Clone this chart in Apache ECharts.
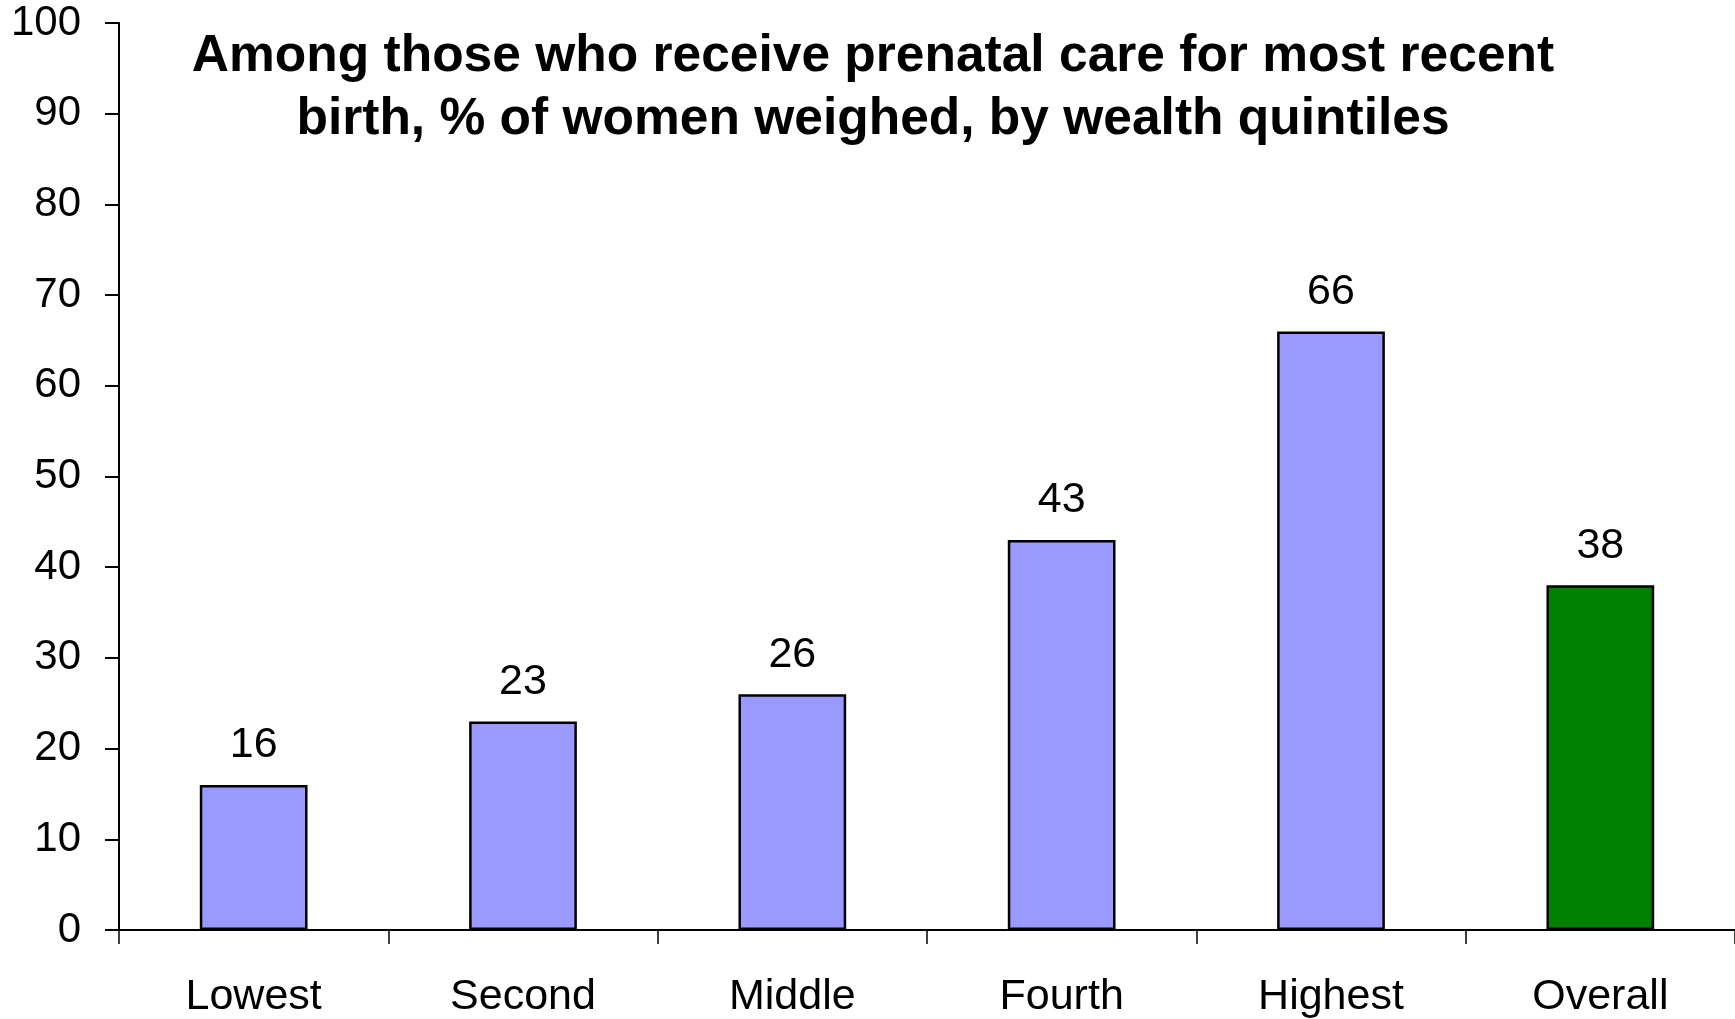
<!DOCTYPE html>
<html>
<head>
<meta charset="utf-8">
<script src="https://cdn.jsdelivr.net/npm/echarts@6/dist/echarts.min.js"></script>
<style>
html,body{margin:0;padding:0;background:#fff;}
#chart{width:1735px;height:1019px;}
</style>
</head>
<body>
<div id="chart"></div>
<script>
const titleLines = ["Among those who receive prenatal care for most recent", "birth, % of women weighed, by wealth quintiles"];
const categories = ["Lowest", "Second", "Middle", "Fourth", "Highest", "Overall"];
const values = [16, 23, 26, 43, 66, 38];
const barColors = ["#9999FF", "#9999FF", "#9999FF", "#9999FF", "#9999FF", "#008000"];
const yTicks = [0, 10, 20, 30, 40, 50, 60, 70, 80, 90, 100];

const FONT = "'Liberation Sans', Arial, sans-serif";
const chart = echarts.init(document.getElementById('chart'), null, {renderer: 'canvas'});
chart.setOption({
  animation: false,
  backgroundColor: '#ffffff',
  title: {
    text: titleLines.join('\n'),
    left: 868,
    top: 20,
    textAlign: 'center',
    textStyle: {fontFamily: FONT, fontSize: 51.5, fontWeight: 'bold', color: '#000', lineHeight: 63}
  },
  grid: {left: 119, right: 0, top: 23, bottom: 86, containLabel: false},
  xAxis: {
    type: 'category',
    data: categories,
    axisLine: {show: true, lineStyle: {color: '#000', width: 2}},
    axisTick: {show: true, inside: false, length: 14, lineStyle: {color: '#000', width: 1.5}},
    axisLabel: {fontFamily: FONT, fontSize: 43, color: '#000', margin: 46}
  },
  yAxis: {
    type: 'value',
    min: yTicks[0],
    max: yTicks[yTicks.length - 1],
    interval: 10,
    splitLine: {show: false},
    axisLine: {show: true, lineStyle: {color: '#000', width: 2}},
    axisTick: {show: true, inside: false, length: 14, lineStyle: {color: '#000', width: 2}},
    axisLabel: {fontFamily: FONT, fontSize: 42, color: '#000', margin: 38}
  },
  series: [{
    type: 'bar',
    data: values.map((v, i) => ({value: v, itemStyle: {color: barColors[i]}})),
    barWidth: '40%',
    itemStyle: {borderColor: '#000', borderWidth: 2.5},
    label: {show: true, position: 'top', distance: 18, fontFamily: FONT, fontSize: 43, color: '#000'}
  }]
});
</script>
</body>
</html>
